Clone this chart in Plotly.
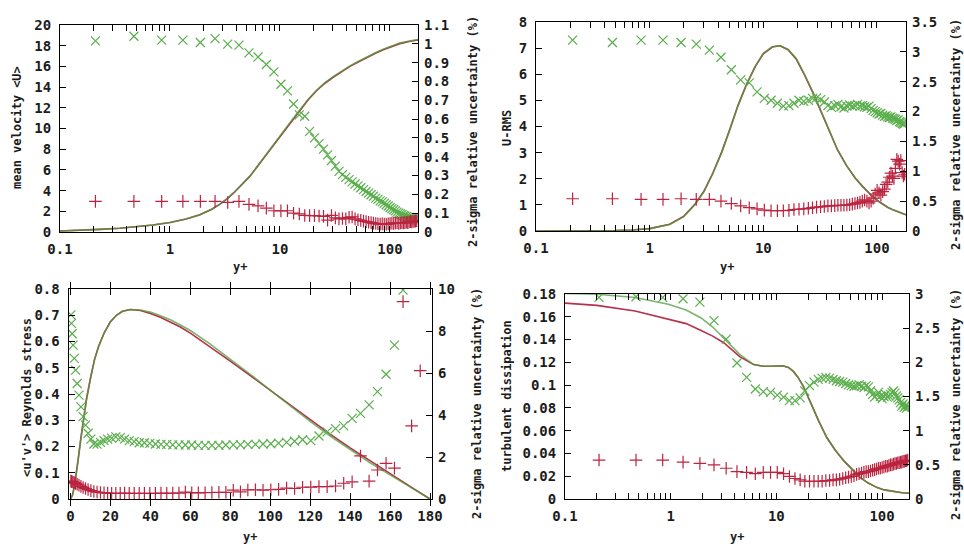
import math
import plotly.graph_objects as go

# ---------------- data ----------------
# wall-normal grid points (y+) of the markers
yplus = [0.21, 0.47, 0.84, 1.31, 1.89, 2.57, 3.35, 4.24, 5.23, 6.32,
         7.52, 8.81, 10.2, 11.7, 13.3, 15.0, 16.8, 18.6, 20.6, 22.7,
         24.9, 27.1, 29.4, 31.9, 34.4, 37.0, 39.7, 42.5, 45.3, 48.2,
         51.2, 54.3, 57.5, 60.7, 64.0, 67.4, 70.8, 74.3, 77.8, 81.5,
         85.1, 88.8, 92.6, 96.4, 100.3, 104.2, 108.2, 112.2, 116.2, 120.3,
         124.4, 128.5, 132.7, 136.8, 141.0, 145.2, 149.5, 153.7, 158.0, 162.2,
         166.5, 170.8, 175.1]

# panel 1: mean velocity
p1_cx = [0.1, 0.15, 0.23, 0.35, 0.5, 0.7, 1.0, 1.4, 1.87, 2.4, 2.85, 3.3, 3.77, 4.5, 5.34,
         6.3, 7.57, 9.0, 10.7, 12.8, 15.2, 18.0, 21.5, 25.5, 30.5, 36.5, 43.3, 52, 61.4, 73,
         86.9, 103, 123, 150, 180]
p1_red_line = [0.1, 0.15, 0.25, 0.36, 0.5, 0.68, 0.92, 1.25, 1.66, 2.2, 2.7, 3.2, 3.75, 4.55, 5.4,
               6.4, 7.5, 8.6, 9.65, 10.75, 11.75, 12.75, 13.65, 14.35, 14.95, 15.5, 16.0, 16.45, 16.85, 17.25,
               17.6, 17.9, 18.2, 18.4, 18.55]
p1_green_line = [0.1, 0.15, 0.25, 0.36, 0.5, 0.68, 0.92, 1.25, 1.66, 2.2, 2.7, 3.2, 3.75, 4.55, 5.4,
                 6.4, 7.5, 8.6, 9.68, 10.8, 11.8, 12.8, 13.7, 14.4, 15.0, 15.55, 16.05, 16.5, 16.9, 17.3,
                 17.65, 17.95, 18.25, 18.45, 18.6]
p1_green_unc = [1.016, 1.040, 1.020, 1.020, 1.007, 1.028, 0.998, 0.993, 0.952, 0.930,
                0.890, 0.851, 0.785, 0.750, 0.680, 0.622, 0.615, 0.535, 0.500, 0.470,
                0.440, 0.410, 0.380, 0.350, 0.322, 0.305, 0.290, 0.278, 0.266, 0.255,
                0.245, 0.235, 0.225, 0.215, 0.207, 0.198, 0.190, 0.180, 0.173, 0.165,
                0.160, 0.152, 0.145, 0.138, 0.130, 0.124, 0.118, 0.112, 0.106, 0.100,
                0.096, 0.092, 0.088, 0.085, 0.082, 0.079, 0.077, 0.075, 0.073, 0.070,
                0.068, 0.066, 0.064]
p1_red_unc = [0.163, 0.163, 0.163, 0.163, 0.163, 0.163, 0.157, 0.163, 0.147, 0.139,
              0.127, 0.113, 0.112, 0.113, 0.100, 0.096, 0.088, 0.087, 0.087, 0.085,
              0.083, 0.063, 0.088, 0.075, 0.070, 0.072, 0.070, 0.078, 0.080, 0.070,
              0.065, 0.062, 0.058, 0.055, 0.052, 0.050, 0.047, 0.045, 0.044, 0.042,
              0.043, 0.042, 0.041, 0.043, 0.045, 0.047, 0.046, 0.048, 0.050, 0.046,
              0.048, 0.050, 0.048, 0.050, 0.052, 0.050, 0.053, 0.055, 0.054, 0.056,
              0.058, 0.057, 0.060]

# panel 2: U-RMS
p2_cx = [0.1, 0.2, 0.35, 0.5, 0.7, 1.0, 1.5, 2.0, 2.5, 3.0, 3.6, 4.3, 5.1, 6.0, 7.1, 8.5, 10, 12,
         14, 16.5, 19.5, 23, 27.4, 32, 38.5, 45, 54, 65, 75, 90, 106, 125, 140, 160, 180]
p2_red_line = [0, 0.004, 0.01, 0.02, 0.04, 0.09, 0.26, 0.57, 1.02, 1.52, 2.22, 3.02, 3.92, 4.82, 5.6,
               6.3, 6.78, 7.04, 7.09, 6.94, 6.58, 5.98, 5.28, 4.58, 3.8, 3.1, 2.5, 2.0, 1.7, 1.35,
               1.1, 0.9, 0.8, 0.7, 0.62]
p2_green_line = [0, 0.004, 0.01, 0.02, 0.04, 0.09, 0.25, 0.55, 1.0, 1.5, 2.2, 3.0, 3.9, 4.8, 5.6,
                 6.3, 6.8, 7.05, 7.1, 6.95, 6.6, 6.0, 5.3, 4.6, 3.8, 3.1, 2.5, 2.0, 1.7, 1.35,
                 1.1, 0.9, 0.8, 0.7, 0.62]
p2_green_unc = [3.196, 3.156, 3.196, 3.196, 3.156, 3.130, 3.030, 2.910, 2.700, 2.530,
                2.480, 2.330, 2.220, 2.190, 2.140, 2.090, 2.100, 2.140, 2.190, 2.170,
                2.190, 2.220, 2.230, 2.200, 2.160, 2.100, 2.070, 2.100, 2.120, 2.080,
                2.060, 2.090, 2.110, 2.090, 2.100, 2.120, 2.090, 2.100, 2.080, 2.070,
                2.090, 2.050, 2.020, 2.000, 1.980, 1.960, 1.970, 1.940, 1.920, 1.930,
                1.910, 1.900, 1.910, 1.890, 1.880, 1.870, 1.850, 1.860, 1.830, 1.820,
                1.800, 1.790, 1.800]
p2_red_unc = [0.54, 0.54, 0.53, 0.53, 0.54, 0.53, 0.53, 0.50, 0.46, 0.42,
              0.39, 0.37, 0.35, 0.34, 0.34, 0.34, 0.345, 0.36, 0.365, 0.37,
              0.38, 0.39, 0.40, 0.405, 0.41, 0.42, 0.42, 0.425, 0.43, 0.43,
              0.43, 0.435, 0.44, 0.45, 0.46, 0.47, 0.48, 0.50, 0.52, 0.50,
              0.47, 0.50, 0.55, 0.62, 0.68, 0.64, 0.60, 0.66, 0.70, 0.78,
              0.82, 0.90, 0.97, 0.92, 0.88, 1.05, 1.20, 1.17, 1.12, 1.18,
              0.98, 0.92, 0.95]

# panel 3: Reynolds stress (linear y+)
p3_cx = [0, 1, 2, 3, 4, 5, 6, 7, 8, 10, 12, 14, 17, 20, 23, 26, 30, 35, 40, 45, 50, 55, 60,
         70, 80, 90, 100, 110, 120, 130, 140, 150, 160, 170, 180]
p3_red_line = [0, 0.015, 0.05, 0.10, 0.16, 0.22, 0.28, 0.33, 0.38, 0.46, 0.53, 0.58, 0.635, 0.675,
               0.70, 0.715, 0.722, 0.718, 0.707, 0.692, 0.675, 0.655, 0.632, 0.58, 0.525, 0.47,
               0.414, 0.358, 0.302, 0.247, 0.195, 0.145, 0.097, 0.048, 0.0]
p3_green_line = [0, 0.015, 0.05, 0.10, 0.16, 0.22, 0.28, 0.33, 0.38, 0.46, 0.53, 0.58, 0.635, 0.675,
                 0.70, 0.715, 0.722, 0.72, 0.712, 0.698, 0.683, 0.663, 0.642, 0.59, 0.533, 0.475,
                 0.415, 0.355, 0.296, 0.24, 0.188, 0.138, 0.092, 0.045, 0.0]
p3_green_unc = [8.77, 8.36, 7.87, 7.33, 6.70, 6.14, 5.50, 4.95, 4.39, 3.92,
                3.52, 3.13, 2.85, 2.62, 2.61, 2.70, 2.78, 2.85, 2.90, 2.96,
                2.92, 2.85, 2.78, 2.73, 2.68, 2.68, 2.65, 2.62, 2.60, 2.60,
                2.58, 2.58, 2.57, 2.57, 2.55, 2.55, 2.55, 2.55, 2.57, 2.58,
                2.58, 2.60, 2.60, 2.62, 2.63, 2.66, 2.70, 2.75, 2.82, 2.78,
                3.00, 3.20, 3.35, 3.48, 3.84, 4.08, 4.48, 5.11, 5.94, 7.33,
                9.95, None, None]
p3_red_unc = [0.85, 0.84, 0.82, 0.80, 0.78, 0.74, 0.70, 0.66, 0.60, 0.55,
              0.50, 0.45, 0.40, 0.36, 0.33, 0.31, 0.29, 0.28, 0.27, 0.27,
              0.27, 0.28, 0.27, 0.27, 0.27, 0.27, 0.27, 0.27, 0.28, 0.27,
              0.28, 0.28, 0.33, 0.30, 0.29, 0.30, 0.31, 0.32, 0.32, 0.42,
              0.34, 0.43, 0.44, 0.42, 0.44, 0.46, 0.52, 0.50, 0.56, 0.57,
              0.59, 0.59, 0.62, 0.75, 0.82, 2.05, 0.85, 1.38, 1.70, 1.47,
              9.40, 3.48, 6.11]

# panel 4: turbulent dissipation
p4_cx = [0.1, 0.2, 0.46, 0.95, 1.4, 1.94, 2.5, 3.2, 4.5, 6.1, 7.5, 9, 11.5, 13, 14.5, 16, 18, 21,
         25, 30, 36, 44, 52, 62, 74, 90, 105, 130, 155, 180]
p4_red_line = [0.172, 0.170, 0.165, 0.158, 0.154, 0.148, 0.143, 0.137, 0.125, 0.118, 0.1165, 0.1165,
               0.117, 0.1155, 0.112, 0.107, 0.099, 0.085, 0.069, 0.054, 0.043, 0.033, 0.026, 0.019,
               0.014, 0.010, 0.008, 0.0065, 0.0055, 0.005]
p4_green_line = [0.1805, 0.1798, 0.177, 0.171, 0.166, 0.159, 0.151, 0.141, 0.127, 0.118, 0.1165, 0.1165,
                 0.117, 0.1155, 0.112, 0.107, 0.099, 0.085, 0.069, 0.054, 0.043, 0.033, 0.026, 0.019,
                 0.014, 0.010, 0.008, 0.0065, 0.0055, 0.005]
p4_green_unc = [2.95, 2.96, 2.95, 2.93, 2.88, 2.61, 2.34, 1.99, 1.78, 1.61,
                1.57, 1.56, 1.52, 1.49, 1.44, 1.44, 1.48, 1.58, 1.66, 1.71,
                1.75, 1.77, 1.78, 1.77, 1.75, 1.73, 1.72, 1.71, 1.69, 1.67,
                1.66, 1.65, 1.66, 1.67, 1.65, 1.63, 1.66, 1.64, 1.58, 1.53,
                1.49, 1.52, 1.56, 1.50, 1.47, 1.50, 1.53, 1.49, 1.51, 1.53,
                1.56, 1.58, 1.55, 1.51, 1.48, 1.45, 1.41, 1.36, 1.39, 1.34,
                1.37, 1.33, 1.36]
p4_red_unc = [0.57, 0.57, 0.57, 0.54, 0.52, 0.50, 0.45, 0.40, 0.39, 0.37,
              0.39, 0.39, 0.39, 0.37, 0.33, 0.30, 0.28, 0.26, 0.26, 0.26,
              0.26, 0.26, 0.27, 0.27, 0.28, 0.28, 0.29, 0.30, 0.31, 0.32,
              0.33, 0.34, 0.36, 0.37, 0.38, 0.39, 0.40, 0.40, 0.41, 0.42,
              0.43, 0.44, 0.45, 0.45, 0.46, 0.47, 0.48, 0.48, 0.49, 0.50,
              0.50, 0.51, 0.52, 0.52, 0.53, 0.53, 0.54, 0.54, 0.55, 0.55,
              0.56, 0.56, 0.57]

# axis tick labels
log_ticks = [0.1, 1, 10, 100]
log_ticktext = ["0.1", "1", "10", "100"]
lin_ticks = [0, 20, 40, 60, 80, 100, 120, 140, 160, 180]
p1_left_ticks = [0, 2, 4, 6, 8, 10, 12, 14, 16, 18, 20]
p1_right_ticks = [0, 0.1, 0.2, 0.3, 0.4, 0.5, 0.6, 0.7, 0.8, 0.9, 1, 1.1]
p2_left_ticks = [0, 1, 2, 3, 4, 5, 6, 7, 8]
p2_right_ticks = [0, 0.5, 1, 1.5, 2, 2.5, 3, 3.5]
p3_left_ticks = [0, 0.1, 0.2, 0.3, 0.4, 0.5, 0.6, 0.7, 0.8]
p3_right_ticks = [0, 2, 4, 6, 8, 10]
p4_left_ticks = [0, 0.02, 0.04, 0.06, 0.08, 0.1, 0.12, 0.14, 0.16, 0.18]
p4_right_ticks = [0, 0.5, 1, 1.5, 2, 2.5, 3]

titles_left = ["mean velocity <U>", "U-RMS", "<u'v'> Reynolds stress", "turbulent dissipation"]
title_right = "2-sigma relative uncertainty (%)"
title_x = "y+"

# ---------------- style ----------------
W, H = 964, 544
TICKFONT = dict(family="DejaVu Sans Mono", size=14, color="#1c1c1c", weight="bold")
TITLEFONT = dict(family="DejaVu Sans Mono", size=12, color="#1c1c1c", weight="bold")
RED = "#bb2440"
GREEN = "#5aae4c"
RED_LINE = "#b8304c"
GREEN_LINE = "#4f9c3c"

# panel boxes in pixels: (left, right, top, bottom)
boxes = [(60, 418, 25, 232), (536, 906, 22, 231), (68.5, 432, 289, 499), (565, 909, 294, 499)]


def fmt(v):
    return "%g" % v


fig = go.Figure()

panels = [
    (yplus, p1_cx, p1_red_line, p1_green_line, p1_green_unc, p1_red_unc),
    (yplus, p2_cx, p2_red_line, p2_green_line, p2_green_unc, p2_red_unc),
    (yplus, p3_cx, p3_red_line, p3_green_line, p3_green_unc, p3_red_unc),
    (yplus, p4_cx, p4_red_line, p4_green_line, p4_green_unc, p4_red_unc),
]

for i, (gx, cx, rl, gl, gu, ru) in enumerate(panels):
    n = i + 1
    xa = "x" if n == 1 else "x%d" % n
    ya = "y" if n == 1 else "y%d" % n
    ya2 = "y%d" % (n + 4)
    fig.add_trace(go.Scatter(x=cx, y=rl, xaxis=xa, yaxis=ya, mode="lines",
                             line=dict(color=RED_LINE, width=1.6), showlegend=False))
    fig.add_trace(go.Scatter(x=cx, y=gl, xaxis=xa, yaxis=ya, mode="lines", opacity=0.75,
                             line=dict(color=GREEN_LINE, width=1.6), showlegend=False))
    fig.add_trace(go.Scatter(x=gx, y=gu, xaxis=xa, yaxis=ya2, mode="markers",
                             marker=dict(symbol="x-thin", size=9, color=GREEN,
                                         line=dict(color=GREEN, width=1.2)), showlegend=False))
    fig.add_trace(go.Scatter(x=gx, y=ru, xaxis=xa, yaxis=ya2, mode="markers",
                             marker=dict(symbol="cross-thin", size=9, color=RED,
                                         line=dict(color=RED, width=1.2)), showlegend=False))

left_ticks = [p1_left_ticks, p2_left_ticks, p3_left_ticks, p4_left_ticks]
right_ticks = [p1_right_ticks, p2_right_ticks, p3_right_ticks, p4_right_ticks]
left_ranges = [[0, 20], [0, 8], [0, 0.8], [0, 0.18]]
right_ranges = [[0, 1.1], [0, 3.5], [0, 10], [0, 3]]

minor_log = [m * 10 ** e for e in (-1, 0, 1, 2) for m in range(2, 10) if m * 10 ** e < 180]

layout = dict(width=W, height=H, autosize=False,
              margin=dict(l=0, r=0, t=0, b=0, pad=0, autoexpand=False),
              paper_bgcolor="white", plot_bgcolor="white", font=TICKFONT, showlegend=False)

axis_common = dict(showgrid=False, zeroline=False, showline=True, linecolor="black", linewidth=1,
                   ticks="inside", ticklen=6, tickcolor="black", tickwidth=1, tickfont=TICKFONT,
                   automargin=False)

annotations = []
for i, (l, r, t, b) in enumerate(boxes):
    n = i + 1
    xd = [l / W, r / W]
    yd = [1 - b / H, 1 - t / H]
    xkey = "xaxis" if n == 1 else "xaxis%d" % n
    ykey = "yaxis" if n == 1 else "yaxis%d" % n
    y2key = "yaxis%d" % (n + 4)
    yname = "y" if n == 1 else "y%d" % n
    xname = "x" if n == 1 else "x%d" % n
    if n == 3:
        xa = dict(axis_common, domain=xd, anchor=yname, range=[-1, 181],
                  tickmode="array", tickvals=lin_ticks, ticktext=[fmt(v) for v in lin_ticks],
                  mirror="allticks", ticklabelstandoff=4)
    else:
        xa = dict(axis_common, domain=xd, anchor=yname, type="log",
                  range=[-1, math.log10(180)],
                  tickmode="array", tickvals=log_ticks, ticktext=log_ticktext,
                  mirror="allticks", ticklabelstandoff=4,
                  minor=dict(ticks="inside", ticklen=3, tickcolor="black", tickwidth=1,
                             tickmode="array", tickvals=minor_log, showgrid=False))
    layout[xkey] = xa
    layout[ykey] = dict(axis_common, domain=yd, anchor=xname, range=left_ranges[i],
                        tickmode="array", tickvals=left_ticks[i],
                        ticktext=[fmt(v) for v in left_ticks[i]], mirror=True,
                        ticklabelstandoff=5)
    layout[y2key] = dict(axis_common, overlaying=yname, side="right", anchor=xname,
                         range=right_ranges[i], showline=False,
                         tickmode="array", tickvals=right_ticks[i],
                         ticktext=[fmt(v) for v in right_ticks[i]], ticklabelstandoff=5)

# axis titles (pixel positions)
xt_pos = [(240, 267), (727, 267), (250, 537), (737, 537)]
lt_pos = [(17, 128), (507, 128), (27, 398), (507, 396)]
rt_pos = [(473, 132), (956, 135), (477, 404), (956, 405)]
for i in range(4):
    x, y = xt_pos[i]
    annotations.append(dict(text=title_x, x=x / W, y=1 - y / H, xref="paper", yref="paper",
                            showarrow=False, font=TITLEFONT, xanchor="center", yanchor="middle"))
    x, y = lt_pos[i]
    annotations.append(dict(text=titles_left[i].replace("<", "&lt;").replace(">", "&gt;"),
                            x=x / W, y=1 - y / H, xref="paper", yref="paper",
                            showarrow=False, font=TITLEFONT, textangle=-90,
                            xanchor="center", yanchor="middle"))
    x, y = rt_pos[i]
    annotations.append(dict(text=title_right, x=x / W, y=1 - y / H, xref="paper", yref="paper",
                            showarrow=False, font=TITLEFONT, textangle=-90,
                            xanchor="center", yanchor="middle"))
layout["annotations"] = annotations

fig.update_layout(**layout)
fig.write_html("out.html", config={"displayModeBar": False},
               post_script="document.body.style.margin='0';document.body.style.overflow='hidden';")
